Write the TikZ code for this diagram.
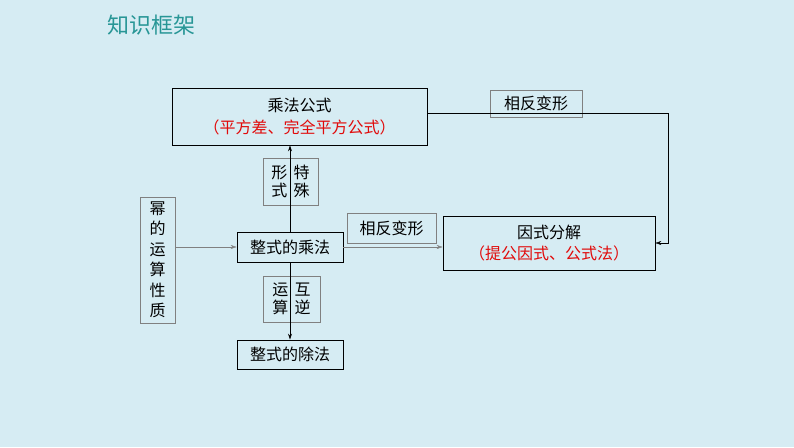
\documentclass[tikz,border=0pt]{standalone}
\usepackage{fontspec}
\setmainfont{Noto Sans CJK SC}
\usetikzlibrary{positioning,arrows.meta}
\definecolor{bgblue}{RGB}{214,236,243}
\definecolor{titlecol}{RGB}{40,150,150}
\definecolor{redtxt}{RGB}{225,10,10}
\tikzset{
  mainbox/.style={draw=black,thick,fill=bgblue,font=\fontsize{16}{19}\selectfont,align=center,inner sep=0pt},
  tagbox/.style={draw=gray,fill=bgblue,font=\fontsize{16}{18}\selectfont,align=center,inner sep=0pt},
  link/.style={-{Stealth[length=6pt,width=4pt]}},
}
\begin{document}
\begin{tikzpicture}[x=1pt,y=-1pt]
    \fill[bgblue] (0,0) rectangle (794,447);
    \useasboundingbox (0,0) rectangle (794,447);
    \node[text=titlecol,font=\fontsize{22}{24}\selectfont,anchor=west] (title) at (104,25) {知识框架};

    \node[mainbox,minimum width=255pt,minimum height=57pt] (mult) at (299.5,116.5)
        {乘法公式\\[3pt]\textcolor{redtxt}{（平方差、完全平方公式）}};
    \node[mainbox,minimum width=212pt,minimum height=54pt] (fact) at (549,243)
        {因式分解\\[2pt]\textcolor{redtxt}{（提公因式、公式法）}};
    \node[mainbox,minimum width=106pt,minimum height=30pt] (zmul) at (290,247) {整式的乘法};
    \node[mainbox,minimum width=106pt,minimum height=29pt] (zdiv) at (290,354.5) {整式的除法};
    \node[tagbox,minimum width=35pt,minimum height=126pt,font=\fontsize{16}{20.5}\selectfont] (power) at (157.5,260) {幂\\的\\运\\算\\性\\质};

    \node[tagbox,minimum width=92pt,minimum height=27pt] (tagA) at (536,103.5) {相反变形};
    \node[tagbox,minimum width=89pt,minimum height=30pt] (tagB) at (391.5,228) {相反变形};
    \node[tagbox,minimum width=55pt,minimum height=47pt] (tagC) at (290.5,181.5) {形\ \,特\\式\ \,殊};
    \node[tagbox,minimum width=57pt,minimum height=46pt] (tagD) at (291.5,299) {运\ \,互\\算\ \,逆};

    \coordinate (corner1) at (668,113);
    \coordinate (corner2) at (668,243);
    \draw[link] (mult.east |- corner1) -- (corner1) -- (corner2) -- (fact.east);
    \draw[link,thick] (zmul.north) -- (mult.south -| zmul.north);
    \draw[link,thick] (zmul.south) -- (zdiv.north);
    \draw[link,gray] (power.east |- zmul) -- (zmul.west);
    \draw[link,gray] (zmul.east) -- (fact.west |- zmul);
\end{tikzpicture}
\end{document}
